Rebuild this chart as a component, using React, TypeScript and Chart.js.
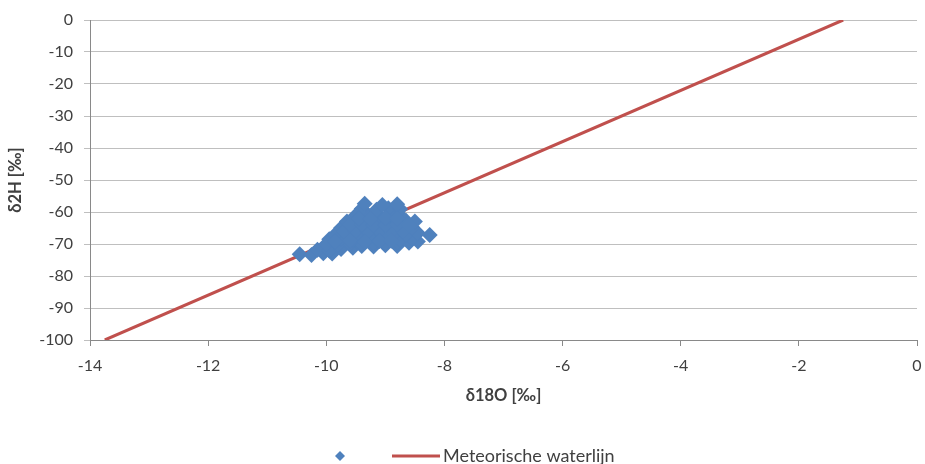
import React, { useEffect, useRef } from "react";
import { Chart, registerables } from "chart.js";

Chart.register(...registerables);

// Measurements: δ18O (‰) and δ2H (‰)
const d18O: number[] = [
  -10.45, -10.25, -10.05, -9.9,
  -10.15, -9.95, -9.75, -9.55,
  -9.4, -9.2, -9.0, -8.8,
  -10.0, -9.8, -9.6, -9.4, -9.2, -9.0, -8.8, -8.6, -8.45,
  -9.95, -9.75, -9.55, -9.35, -9.15, -8.95, -8.75, -8.55,
  -9.85, -9.65, -9.45, -9.25, -9.05, -8.85, -8.65, -8.45, -8.25,
  -9.75, -9.55, -9.35, -9.15, -8.95, -8.75, -8.55,
  -9.65, -9.45, -9.25, -9.05, -8.85, -8.65, -8.5,
  -9.5, -9.3, -9.1, -8.9, -8.75,
  -9.4, -9.15, -8.95, -8.75,
  -9.35, -9.05, -8.8,
  -9.7, -9.5, -9.3, -9.1, -8.9, -8.7,
  -9.6, -9.4, -9.2, -9.0, -8.8, -8.6,
  -9.85, -9.6, -9.35, -9.1, -8.9,
  -9.45, -9.25, -9.0, -8.8,
];
const d2H: number[] = [
  -73.2, -73.4, -72.9, -73.0,
  -71.8, -72.0, -71.6, -71.2,
  -70.6, -70.8, -70.4, -70.6,
  -70.0, -70.2, -69.8, -70.0, -69.6, -69.8, -69.4, -69.6, -69.2,
  -68.5, -68.3, -68.7, -68.4, -68.6, -68.2, -68.5, -68.3,
  -67.0, -66.8, -67.2, -66.9, -67.1, -66.7, -67.0, -66.6, -67.2,
  -65.0, -65.2, -64.8, -65.1, -64.9, -65.2, -64.8,
  -63.0, -62.8, -63.2, -62.9, -63.1, -62.7, -63.0,
  -61.0, -60.8, -61.2, -60.9, -61.1,
  -59.0, -59.3, -58.8, -59.1,
  -57.4, -57.8, -57.6,
  -66.0, -65.9, -66.1, -65.8, -66.0, -65.9,
  -64.0, -63.9, -64.1, -64.0, -63.8, -64.1,
  -69.2, -69.0, -69.3, -69.1, -69.0,
  -62.0, -62.1, -61.9, -62.0,
];

// Meteoric water line endpoints
const mwlX: number[] = [-13.75, -1.25];
const mwlY: number[] = [-100, 0];

const xTicks = { min: -14, max: 0, step: 2 };
const yTicks = { min: -100, max: 0, step: 10 };

const legendLabels = ["", "Meteorische waterlijn"];

const FONT = "Lato, 'Open Sans', sans-serif";
const TEXT = "#404040";

const legendPlugin = {
  id: "customLegend",
  afterDraw(chart: any) {
    const ctx = chart.ctx;
    const y = 456;
    ctx.save();
    ctx.fillStyle = "#4F81BD";
    ctx.beginPath();
    ctx.moveTo(340, y - 5);
    ctx.lineTo(345, y);
    ctx.lineTo(340, y + 5);
    ctx.lineTo(335, y);
    ctx.closePath();
    ctx.fill();
    ctx.strokeStyle = "#C0504D";
    ctx.lineWidth = 3;
    ctx.beginPath();
    ctx.moveTo(392, y);
    ctx.lineTo(440, y);
    ctx.stroke();
    ctx.fillStyle = TEXT;
    ctx.font = `18px ${FONT}`;
    ctx.textBaseline = "middle";
    ctx.textAlign = "left";
    ctx.fillText(legendLabels[1], 443, y);
    ctx.restore();
  },
};

export default function App() {
  const ref = useRef<HTMLCanvasElement | null>(null);
  useEffect(() => {
    document.body.style.margin = "0";
    const canvas = ref.current!;
    const chart = new Chart(canvas, {
      type: "scatter",
      data: {
        datasets: [
          {
            label: legendLabels[0],
            data: d18O.map((x, i) => ({ x, y: d2H[i] })),
            pointStyle: "rectRot",
            pointRadius: 8,
            pointBackgroundColor: "#4F81BD",
            pointBorderColor: "#4F81BD",
            pointBorderWidth: 0,
            showLine: false,
          },
          {
            label: legendLabels[1],
            type: "line",
            data: mwlX.map((x, i) => ({ x, y: mwlY[i] })),
            borderColor: "#C0504D",
            borderWidth: 3,
            pointRadius: 0,
            showLine: true,
            fill: false,
          } as any,
        ],
      },
      options: {
        animation: false,
        responsive: false,
        maintainAspectRatio: false,
        layout: { autoPadding: false, padding: { top: 20, right: 8, bottom: 58, left: 0 } },
        plugins: {
          legend: { display: false },
          tooltip: { enabled: false },
        },
        scales: {
          x: {
            type: "linear",
            min: xTicks.min,
            max: xTicks.max,
            ticks: {
              stepSize: xTicks.step,
              color: TEXT,
              font: { family: FONT, size: 16 },
              padding: 10,
            },
            grid: {
              drawOnChartArea: false,
              drawTicks: true,
              tickLength: 6,
              color: "#898989",
            },
            border: { color: "#898989", width: 1 },
            title: {
              display: true,
              text: "δ18O [‰]",
              color: TEXT,
              font: { family: FONT, size: 16.5, weight: "bold" },
              padding: { top: 8, bottom: 0 },
            },
            afterFit(scale: any) {
              scale.height = 66;
              scale.paddingRight = 0;
              scale.paddingLeft = 0;
            },
          },
          y: {
            type: "linear",
            min: yTicks.min,
            max: yTicks.max,
            ticks: {
              stepSize: yTicks.step,
              color: TEXT,
              font: { family: FONT, size: 16 },
              padding: 11,
            },
            grid: {
              color: "#BFBFBF",
              drawTicks: true,
              tickLength: 6,
            },
            border: { color: "#898989", width: 1 },
            title: {
              display: true,
              text: "δ2H [‰]",
              color: TEXT,
              font: { family: FONT, size: 16.5, weight: "bold" },
              padding: { top: 6, bottom: 0 },
            },
            afterFit(scale: any) {
              scale.width = 90;
              scale.paddingTop = 0;
              scale.paddingBottom = 0;
            },
          },
        },
      },
      plugins: [legendPlugin],
    });
    return () => chart.destroy();
  }, []);
  return (
    <div style={{ width: 925, height: 464 }}>
      <canvas ref={ref} width={925} height={464} style={{ display: "block" }} />
    </div>
  );
}
